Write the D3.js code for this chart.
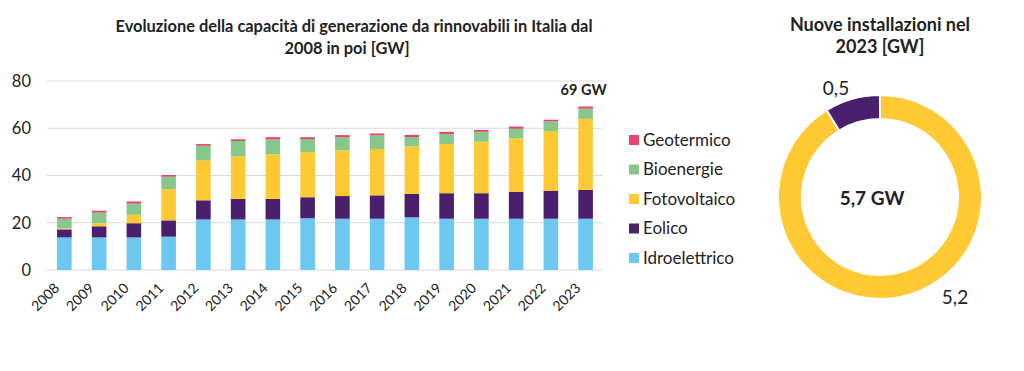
<!DOCTYPE html>
<html>
<head>
<meta charset="utf-8">
<script src="https://cdn.jsdelivr.net/npm/d3@7"></script>
<style>
  body { margin: 0; background: #fff; }
  text { font-family: Lato, "Open Sans", sans-serif; fill: #222; }
</style>
</head>
<body>
<svg id="chart" width="1024" height="371"></svg>
<script>
const years = ["2008", "2009", "2010", "2011", "2012", "2013", "2014", "2015",
  "2016", "2017", "2018", "2019", "2020", "2021", "2022", "2023"];
const seriesNames = ["Idroelettrico", "Eolico", "Fotovoltaico", "Bioenergie", "Geotermico"];
const seriesColors = ["#6cc7f1", "#4a1f6c", "#fec932", "#88c78b", "#e6436d"];

const idro = [13.8, 13.8, 13.8, 14.1, 21.4, 21.4, 21.4, 21.9, 21.7, 21.7, 22.3, 21.7, 21.7, 21.7, 21.7, 21.7];
const eolico = [3.4, 4.7, 6.0, 6.9, 8.1, 8.7, 8.7, 8.9, 9.6, 9.9, 9.9, 10.8, 10.8, 11.4, 11.9, 12.2];
const fotovoltaico = [0.4, 1.3, 3.6, 13.2, 16.9, 18.0, 18.9, 19.1, 19.4, 19.6, 20.2, 20.8, 21.8, 22.6, 25.2, 30.1];
const bioenergie = [4.1, 4.5, 4.7, 5.3, 6.2, 6.5, 6.3, 5.5, 5.5, 5.8, 3.9, 4.3, 4.2, 4.1, 4.1, 4.3];
const geotermico = [0.7, 0.8, 0.9, 0.7, 0.7, 0.7, 0.9, 0.8, 0.9, 0.8, 0.9, 0.9, 0.8, 0.9, 0.7, 0.9];
const yTicks = [0, 20, 40, 60, 80];

const donutLabels = ["Fotovoltaico", "Eolico"];
const donutValues = [5.2, 0.5];
const donutColors = ["#fec932", "#4a1f6c"];

const svg = d3.select("#chart");

// table for the stack
const table = years.map((y, i) => ({
  year: y,
  Idroelettrico: idro[i],
  Eolico: eolico[i],
  Fotovoltaico: fotovoltaico[i],
  Bioenergie: bioenergie[i],
  Geotermico: geotermico[i]
}));

const x = d3.scaleBand().domain(years).range([47, 603]).paddingInner(0.58).paddingOuter(0.29);
const y = d3.scaleLinear().domain([0, 80]).range([270, 81]);

// gridlines
svg.append("g")
  .selectAll("line")
  .data(yTicks)
  .join("line")
  .attr("x1", 47).attr("x2", 603)
  .attr("y1", d => y(d)).attr("y2", d => y(d))
  .attr("stroke", "#dadada").attr("stroke-width", 1.2);

// y axis labels
const yAxis = svg.append("g")
  .attr("transform", "translate(31,0)")
  .call(d3.axisLeft(y).tickValues(yTicks).tickSize(0).tickPadding(0));
yAxis.select(".domain").remove();
yAxis.selectAll("text")
  .style("font-family", "Lato, sans-serif")
  .style("font-size", "16.5px")
  .attr("fill", "#222");

// stacked bars
const stack = d3.stack().keys(seriesNames)(table);
const color = d3.scaleOrdinal().domain(seriesNames).range(seriesColors);

svg.append("g")
  .selectAll("g")
  .data(stack)
  .join("g")
  .attr("fill", d => color(d.key))
  .selectAll("rect")
  .data(d => d)
  .join("rect")
  .attr("x", d => x(d.data.year))
  .attr("width", x.bandwidth())
  .attr("y", d => y(d[1]))
  .attr("height", d => y(d[0]) - y(d[1]));

// x axis labels, rotated
const xAxis = svg.append("g")
  .attr("transform", "translate(0,276)")
  .call(d3.axisBottom(x).tickSize(0).tickPadding(0));
xAxis.select(".domain").remove();
xAxis.selectAll("text")
  .style("font-family", "Lato, sans-serif")
  .style("font-size", "14px")
  .attr("fill", "#222")
  .attr("text-anchor", "end")
  .attr("dy", "0.7em")
  .attr("transform", "translate(-11,6) rotate(-45)");

// total label on last bar
const last = years.length - 1;
const lastTotal = idro[last] + eolico[last] + fotovoltaico[last] + bioenergie[last] + geotermico[last];
svg.append("text")
  .attr("x", x(years[last]) + x.bandwidth() / 2 - 2)
  .attr("y", y(lastTotal) - 12)
  .attr("text-anchor", "middle")
  .style("font-size", "14.5px")
  .style("font-weight", "bold")
  .text(Math.round(lastTotal) + " GW");

// legend
const legend = svg.append("g")
  .selectAll("g")
  .data(seriesNames.slice().reverse())
  .join("g")
  .attr("transform", (d, i) => `translate(629,${140 + i * 29.5})`);
legend.append("rect")
  .attr("y", -5).attr("width", 10).attr("height", 10)
  .attr("fill", d => color(d));
legend.append("text")
  .attr("x", 14).attr("dy", "0.35em")
  .style("font-size", "17px")
  .text(d => d);

// bar chart title
const title = svg.append("text")
  .attr("text-anchor", "middle")
  .style("font-size", "16.4px")
  .style("font-weight", "bold");
title.append("tspan").attr("x", 354).attr("y", 32)
  .text("Evoluzione della capacità di generazione da rinnovabili in Italia dal");
title.append("tspan").attr("x", 347).attr("y", 54)
  .text("2008 in poi [GW]");

// donut
const cx = 880, cy = 197;
const pie = d3.pie().sort(null).value(d => d)(donutValues);
const arc = d3.arc().innerRadius(78).outerRadius(102);
const dg = svg.append("g").attr("transform", `translate(${cx},${cy})`);
dg.selectAll("path")
  .data(pie)
  .join("path")
  .attr("d", arc)
  .attr("fill", (d, i) => donutColors[i])
  .attr("stroke", "#fff")
  .attr("stroke-width", 2);

const labelPos = [[75, 100], [-44, -109]];
dg.selectAll("text.val")
  .data(pie)
  .join("text")
  .attr("class", "val")
  .attr("x", (d, i) => labelPos[i][0])
  .attr("y", (d, i) => labelPos[i][1])
  .attr("text-anchor", "middle")
  .attr("dy", "0.35em")
  .style("font-size", "19px")
  .text(d => d3.format(".1f")(d.data).replace(".", ","));

const total = d3.sum(donutValues);
dg.append("text")
  .attr("x", -8).attr("y", 1)
  .attr("text-anchor", "middle")
  .attr("dy", "0.35em")
  .style("font-size", "19px")
  .style("font-weight", "bold")
  .text(d3.format(".1f")(total).replace(".", ",") + " GW");

const dTitle = svg.append("text")
  .attr("text-anchor", "middle")
  .style("font-size", "18px")
  .style("font-weight", "bold");
dTitle.append("tspan").attr("x", 880).attr("y", 31).text("Nuove installazioni nel");
dTitle.append("tspan").attr("x", 880).attr("y", 53).text("2023 [GW]");
</script>
</body>
</html>
